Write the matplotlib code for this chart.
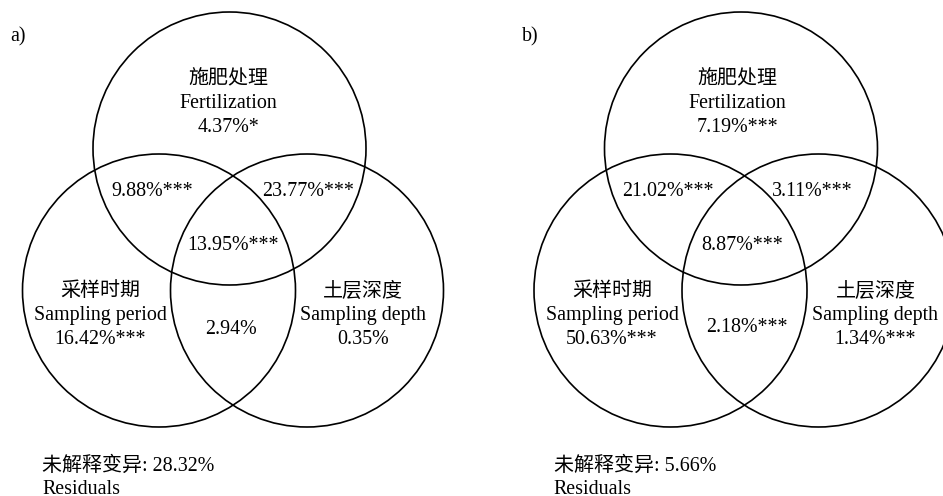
import matplotlib.pyplot as plt
from matplotlib.patches import Circle

# variance partitioning results (%), with significance marks
factor_cn = ["施肥处理", "采样时期", "土层深度"]
factor_en = ["Fertilization", "Sampling period", "Sampling depth"]

# order: Fertilization, Sampling period, Sampling depth
unique_a = [4.37, 16.42, 0.35]
unique_sig_a = ["*", "***", ""]
unique_b = [7.19, 50.63, 1.34]
unique_sig_b = ["***", "***", "***"]

# order: F∩P, F∩D, P∩D, F∩P∩D
shared_a = [9.88, 23.77, 2.94, 13.95]
shared_sig_a = ["***", "***", "", "***"]
shared_b = [21.02, 3.11, 2.18, 8.87]
shared_sig_b = ["***", "***", "***", "***"]

residual_a = 28.32
residual_b = 5.66
panel_tags = ["a)", "b)"]

W, H = 943, 496
R = 136.5
FONT = ["Liberation Serif", "Noto Sans CJK SC", "DejaVu Sans"]
FS = 14.4
LINE = 23.5

fig = plt.figure(figsize=(W / 100, H / 100), dpi=100)
ax = fig.add_axes([0, 0, 1, 1])
ax.set_xlim(0, W)
ax.set_ylim(H, 0)
ax.set_aspect("equal")
ax.axis("off")


def put(x, y, s, ha="center", va="center"):
    ax.text(x, y, s, ha=ha, va=va, fontsize=FS, family=FONT)


def draw_panel(x0, tag, uniq, usig, shared, ssig, resid, shared_xy, uniq_x):
    # circle centres relative to panel origin
    centres = [(x0 + 229.5, 148.5), (x0 + 159, 290.5), (x0 + 307, 290.5)]
    for cx, cy in centres:
        ax.add_patch(Circle((cx, cy), R, fill=False, ec="black", lw=1.2))

    put(x0 + 10, 37, tag, ha="left")

    # unique fractions
    tops = [80, 292, 292]
    for i in range(3):
        ux = x0 + uniq_x[i]
        put(ux, tops[i], factor_cn[i])
        put(ux, tops[i] + LINE, factor_en[i])
        put(ux, tops[i] + 2 * LINE, f"{uniq[i]:.2f}%{usig[i]}")

    # shared fractions
    for (sx, sy), v, s in zip(shared_xy, shared, ssig):
        put(x0 + sx, sy, f"{v:.2f}%{s}")

    put(x0 + 42, 466, f"未解释变异: {resid:.2f}%", ha="left")
    put(x0 + 42, 494.5, "Residuals", ha="left", va="baseline")


draw_panel(0, panel_tags[0], unique_a, unique_sig_a, shared_a, shared_sig_a,
           residual_a,
           [(152, 192), (308, 192), (231, 330), (233, 246)],
           [228, 100, 363])
draw_panel(511.5, panel_tags[1], unique_b, unique_sig_b, shared_b, shared_sig_b,
           residual_b,
           [(156.5, 192), (300.5, 192), (235.5, 328), (230.5, 246)],
           [226, 100.5, 364])

fig.savefig("out.png", dpi=100)
